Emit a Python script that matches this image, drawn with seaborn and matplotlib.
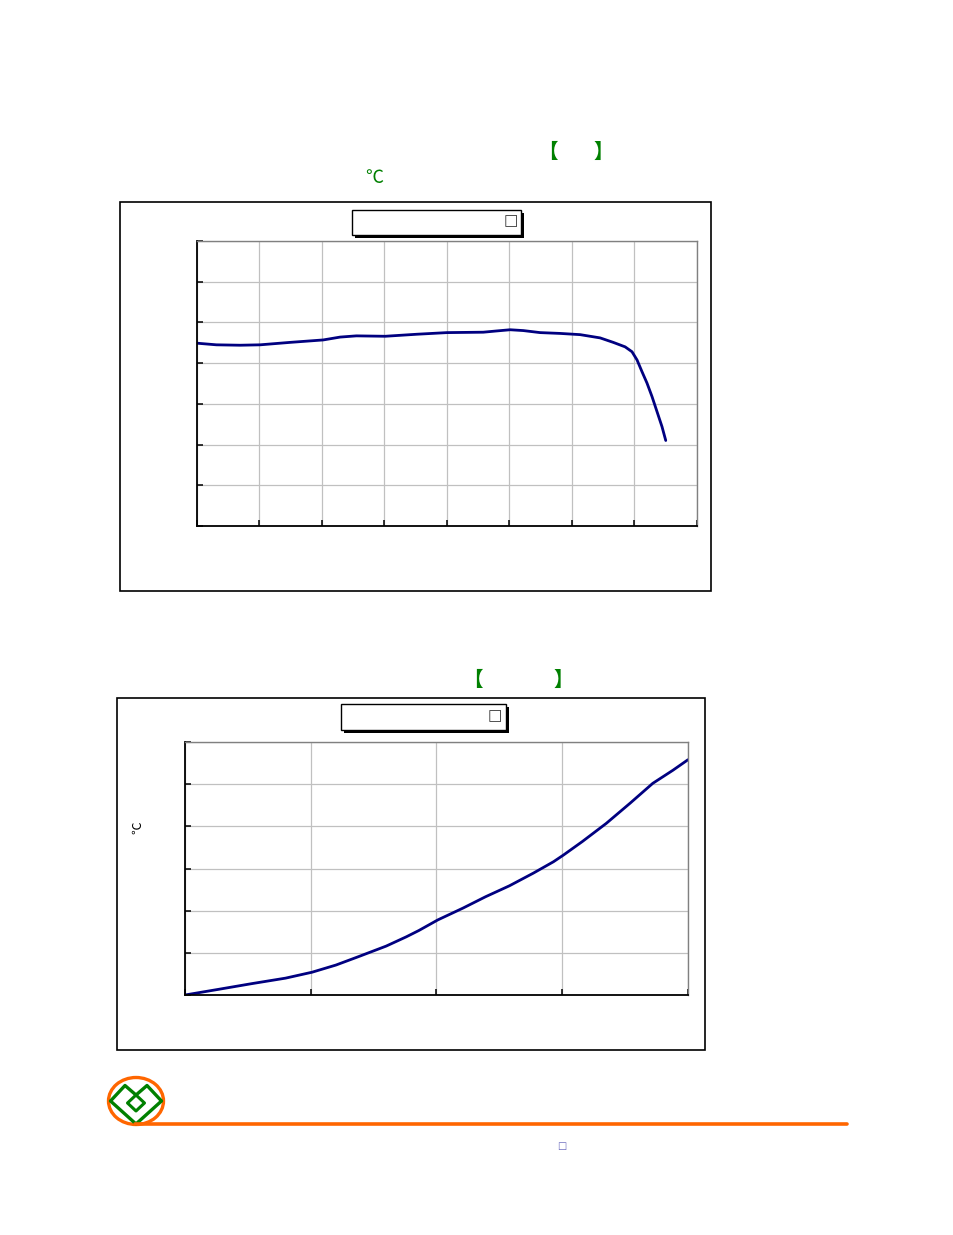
import numpy as np
import pandas as pd
import matplotlib
matplotlib.use("Agg")
import matplotlib.pyplot as plt
import seaborn as sns
from matplotlib.patches import Rectangle, Ellipse, Polygon

# ---- data ----
chart1_x = [0, 0.31, 0.69, 1.01, 1.49, 2.02, 2.29, 2.55, 3.01, 3.52, 4.0, 4.58, 4.79, 5.01,
            5.22, 5.49, 5.81, 6.13, 6.45, 6.66, 6.85, 6.96, 7.04, 7.12, 7.20, 7.28, 7.36, 7.44, 7.50]
chart1_y = [4.49, 4.45, 4.44, 4.45, 4.51, 4.57, 4.64, 4.67, 4.66, 4.71, 4.75, 4.76, 4.79, 4.82,
            4.80, 4.75, 4.73, 4.70, 4.62, 4.51, 4.40, 4.28, 4.08, 3.79, 3.51, 3.18, 2.81, 2.44, 2.10]
chart1_xticks = list(range(0, 9))
chart1_yticks = list(range(0, 8))

chart2_x = [0, 0.266, 0.532, 0.80, 1.01, 1.20, 1.38, 1.60, 1.76, 1.86, 2.01, 2.21, 2.39,
            2.58, 2.77, 2.93, 3.01, 3.16, 3.35, 3.54, 3.72, 3.88, 4.0]
chart2_y = [0, 0.134, 0.27, 0.40, 0.54, 0.71, 0.91, 1.16, 1.38, 1.53, 1.78, 2.06, 2.33,
            2.59, 2.89, 3.16, 3.32, 3.64, 4.07, 4.55, 5.02, 5.33, 5.58]
chart2_xticks = list(range(0, 5))
chart2_yticks = list(range(0, 7))

sns.set_style("white")
plt.rcParams["font.family"] = ["Noto Sans CJK SC", "DejaVu Sans"]

W, H = 954, 1235
fig = plt.figure(figsize=(W / 100, H / 100), dpi=100)


def fx(x):
    return x / W


def fy(y):
    return 1 - y / H


def frame(x0, y0, x1, y1, lw=1.0, color="black", fc="none", z=0):
    fig.patches.append(Rectangle((fx(x0), fy(y1)), fx(x1) - fx(x0), fy(y0) - fy(y1),
                                 transform=fig.transFigure, fill=(fc != "none"),
                                 facecolor=fc, edgecolor=color, lw=lw, zorder=z))


def legend_box(x0, y0, x1, y1, sqx, sqy):
    # shadow
    frame(x0 + 3, y0 + 3, x1 + 3, y1 + 3, lw=0, color="black", fc="black", z=1)
    frame(x0, y0, x1, y1, lw=1.0, color="black", fc="white", z=2)
    fig.text(fx(sqx), fy(sqy), "\u25a1", family=["DejaVu Sans"], fontsize=11,
             color="#333333", ha="center", va="center", zorder=3)


def style_axes(ax, xt, yt):
    ax.set_xlim(xt[0], xt[-1])
    ax.set_ylim(yt[0], yt[-1])
    ax.set_xticks(xt)
    ax.set_yticks(yt)
    ax.set_xticklabels([""] * len(xt))
    ax.set_yticklabels([""] * len(yt))
    ax.grid(True, color="#c0c0c0", lw=0.9)
    ax.set_axisbelow(True)
    for s in ["left", "bottom"]:
        ax.spines[s].set_color("black")
        ax.spines[s].set_linewidth(1.3)
    for s in ["top", "right"]:
        ax.spines[s].set_color("#808080")
        ax.spines[s].set_linewidth(1.0)
    ax.tick_params(axis="both", direction="in", length=4, width=1.1, color="black",
                   left=True, bottom=True, top=False, right=False)
    ax.set_xlabel("")
    ax.set_ylabel("")
    ax.set_facecolor("white")


# ---- chart 1 ----
frame(120, 202, 711, 591, lw=1.2)
ax1 = fig.add_axes([fx(197), fy(526), fx(697) - fx(197), fy(241) - fy(526)])
df1 = pd.DataFrame({"x": chart1_x, "y": chart1_y})
sns.lineplot(data=df1, x="x", y="y", ax=ax1, color="#000080", lw=2.0, sort=False)
style_axes(ax1, chart1_xticks, chart1_yticks)
legend_box(352, 210, 521, 235, 511, 221)

fig.text(fx(548), fy(152), "\u3010", color="#008000", fontsize=14, fontweight="bold",
         ha="center", va="center")
fig.text(fx(603), fy(152), "\u3011", color="#008000", fontsize=14, fontweight="bold",
         ha="center", va="center")
fig.text(fx(374), fy(178), "\u2103", color="#008000", fontsize=13,
         ha="center", va="center")

# ---- chart 2 ----
frame(117, 698, 705, 1050, lw=1.2)
ax2 = fig.add_axes([fx(185), fy(995), fx(688) - fx(185), fy(742) - fy(995)])
df2 = pd.DataFrame({"x": chart2_x, "y": chart2_y})
sns.lineplot(data=df2, x="x", y="y", ax=ax2, color="#000080", lw=2.0, sort=False)
style_axes(ax2, chart2_xticks, chart2_yticks)
legend_box(341, 704, 506, 730, 495, 716)

fig.text(fx(473), fy(680), "\u3010", color="#008000", fontsize=14, fontweight="bold",
         ha="center", va="center")
fig.text(fx(563), fy(680), "\u3011", color="#008000", fontsize=14, fontweight="bold",
         ha="center", va="center")
fig.text(fx(138), fy(828), "\u2103", color="black", fontsize=9, rotation=90,
         ha="center", va="center")

# ---- footer logo and rule ----
fig.lines.append(plt.Line2D([fx(135), fx(847)], [fy(1124), fy(1124)],
                            transform=fig.transFigure, color="#FF6600", lw=2.6))
fig.patches.append(Ellipse((fx(136), fy(1101)), 55 / W, 47 / H, transform=fig.transFigure,
                           fill=False, edgecolor="#FF6600", lw=2.4))
outer = [(110.5, 1101), (125, 1085.5), (136, 1095), (147, 1085.5), (161.5, 1101), (136, 1124)]
fig.patches.append(Polygon([(fx(a), fy(b)) for a, b in outer], closed=True,
                           transform=fig.transFigure, fill=False, edgecolor="#008000",
                           lw=2.4, joinstyle="round"))
inner = [(127.5, 1103), (136, 1095), (144.5, 1103), (136, 1111)]
fig.patches.append(Polygon([(fx(a), fy(b)) for a, b in inner], closed=True,
                           transform=fig.transFigure, fill=False, edgecolor="#008000",
                           lw=2.2, joinstyle="round"))
fig.text(fx(562), fy(1146), "\u25a1", family=["DejaVu Sans"], fontsize=7,
         color="#6666bb", ha="center", va="center")

fig.savefig("out.png", dpi=100, facecolor="white")
